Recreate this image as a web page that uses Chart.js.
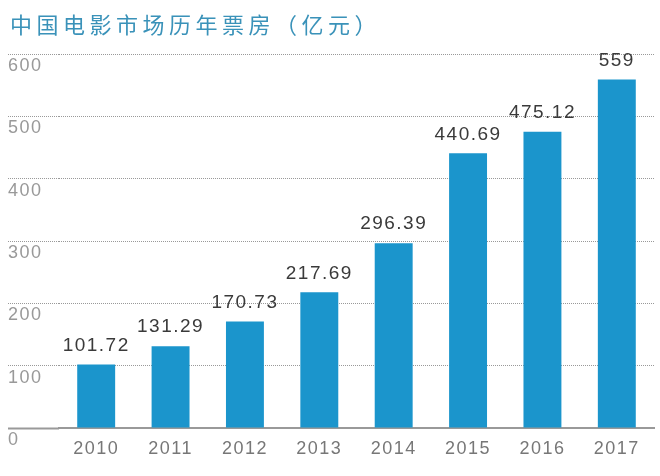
<!DOCTYPE html>
<html>
<head>
<meta charset="utf-8">
<script src="https://cdn.jsdelivr.net/npm/chart.js@4"></script>
<style>
  body { margin: 0; background: #fff; }
  #wrap { position: relative; width: 660px; height: 476px; }
  #title {
    position: absolute; left: 10px; top: 12px;
    font-family: "Noto Sans CJK SC", sans-serif; font-weight: 400;
    font-size: 22px; line-height: 22px; letter-spacing: 4.5px;
    color: #3a92b9; white-space: nowrap;
  }
  canvas { position: absolute; left: 0; top: 0; }
</style>
</head>
<body>
<div id="wrap">
  <canvas id="chart" width="660" height="476"></canvas>
  <div id="title">中国电影市场历年票房（亿元）</div>
</div>
<script>
// données
const years = ['2010', '2011', '2012', '2013', '2014', '2015', '2016', '2017'];
const boxOffice = [101.72, 131.29, 170.73, 217.69, 296.39, 440.69, 475.12, 559];
const yTicks = [0, 100, 200, 300, 400, 500, 600];

// étiquettes au-dessus des barres
const valueLabels = {
    id: 'valueLabels',
    beforeDraw(chart) {
        chart.ctx.letterSpacing = '1.5px';
    },
    afterDatasetsDraw(chart) {
        const ctx = chart.ctx;
        const meta = chart.getDatasetMeta(0);
        ctx.save();
        ctx.font = '19px "Liberation Sans", Arial, sans-serif';
        ctx.fillStyle = '#3a3a3a';
        ctx.textAlign = 'center';
        ctx.textBaseline = 'middle';
        meta.data.forEach((bar, i) => {
            ctx.fillText(String(boxOffice[i]), bar.x, bar.y - 19);
        });
        ctx.restore();
    }
};

const ctx = document.getElementById('chart').getContext('2d');
const chart = new Chart(ctx, {
    type: 'bar',
    data: {
        labels: years,
        datasets: [{
            data: boxOffice,
            backgroundColor: '#1b95cc',
            borderWidth: 0,
            categoryPercentage: 1,
            barPercentage: 0.51
        }]
    },
    options: {
        responsive: false,
        animation: false,
        layout: { padding: { top: 54, left: 8, right: 6, bottom: 0 } },
        plugins: {
            legend: { display: false },
            tooltip: { enabled: false }
        },
        scales: {
            x: {
                grid: { display: false },
                border: { display: true, color: '#999', width: 2 },
                ticks: {
                    color: '#777',
                    padding: 2,
                    font: { family: '"Liberation Sans", Arial, sans-serif', size: 18 }
                },
                afterFit(scale) { scale.height = 48; }
            },
            y: {
                min: 0,
                max: 600,
                afterBuildTicks(scale) {
                    scale.ticks = yTicks.map(v => ({ value: v }));
                },
                afterFit(scale) { scale.width = 51; },
                border: { display: false, dash: [1, 1] },
                grid: {
                    color: c => c.tick && c.tick.value === 0 ? 'rgba(0,0,0,0)' : '#999',
                    tickLength: 51,
                    tickColor: '#999',
                    tickWidth: c => c.tick && c.tick.value === 0 ? 2 : 1,
                    tickBorderDash: c => c.tick && c.tick.value === 0 ? [] : [1, 1]
                },
                ticks: {
                    color: '#999',
                    crossAlign: 'far',
                    labelOffset: 12,
                    font: { family: '"Liberation Sans", Arial, sans-serif', size: 18 }
                }
            }
        }
    },
    plugins: [valueLabels]
});
</script>
</body>
</html>
